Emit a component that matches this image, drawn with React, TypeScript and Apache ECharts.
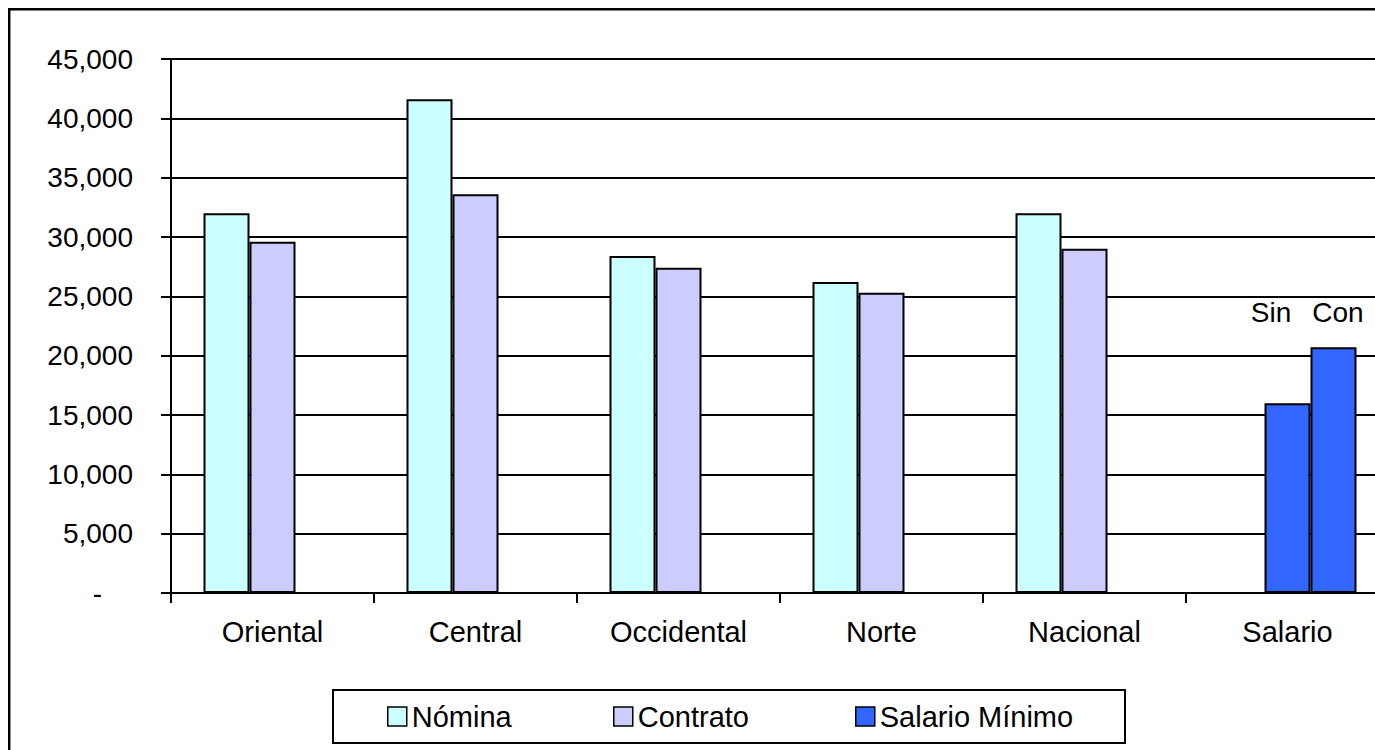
import React, { useEffect, useRef } from "react";
import * as echarts from "echarts";

const categories = ["Oriental", "Central", "Occidental", "Norte", "Nacional", "Salario"];
const nomina = [32000, 41600, 28400, 26200, 32000, null];
const contrato = [29600, 33600, 27400, 25300, 29000, null];
const salarioSin = 16000;
const salarioCon = 20700;
const salarioMinimo = [null, null, null, null, null, salarioCon];
const yMin = 0;
const yMax = 45000;
const yInterval = 5000;
const annotations = ["Sin", "Con"];

const FONT = "'Liberation Sans', Arial, sans-serif";

export default function App() {
  const ref = useRef<HTMLDivElement>(null);
  useEffect(() => {
    if (!ref.current) return;
    const chart = echarts.init(ref.current, null, { renderer: "svg" });
    const contratoData: any[] = contrato.map((v, i) =>
      i === categories.length - 1
        ? { value: salarioSin, itemStyle: { color: "#3366FF" } }
        : v
    );
    const legendCommon = {
      padding: 0,
      top: 694,
      itemWidth: 19,
      itemHeight: 19,
      icon: "rect",
      selectedMode: false,
      itemStyle: { borderColor: "#000", borderWidth: 1.5 },
      textStyle: { fontSize: 29, color: "#000", fontFamily: FONT },
    };
    chart.setOption({
      animation: false,
      textStyle: { fontFamily: FONT },
      grid: { left: 163, top: 51, width: 1218, height: 534 },
      legend: [
        { ...legendCommon, left: 379, data: ["Nómina"] },
        { ...legendCommon, left: 605, data: ["Contrato"] },
        { ...legendCommon, left: 847, data: ["Salario Mínimo"] },
      ],
      xAxis: {
        type: "category",
        data: categories,
        axisLine: { lineStyle: { color: "#000", width: 2 } },
        axisTick: { show: true, length: 10, lineStyle: { color: "#000", width: 2 } },
        axisLabel: { color: "#000", fontSize: 29, margin: 24, fontFamily: FONT },
      },
      yAxis: {
        type: "value",
        min: yMin,
        max: yMax,
        interval: yInterval,
        axisLine: { show: true, lineStyle: { color: "#000", width: 2 } },
        axisTick: { show: true, length: 10, lineStyle: { color: "#000", width: 2 } },
        splitLine: { show: true, lineStyle: { color: "#000", width: 1.8 } },
        axisLabel: {
          color: "#000",
          fontSize: 28,
          margin: 38,
          fontFamily: FONT,
          formatter: (v: number) =>
            v === 0 ? "{d|-}" : v.toLocaleString("en-US"),
          rich: { d: { fontSize: 28, color: "#000", padding: [0, 31, 0, 0], fontFamily: FONT } },
        },
      },
      series: [
        {
          name: "Nómina",
          type: "bar",
          data: nomina,
          barWidth: 46,
          barGap: "0%",
          itemStyle: { color: "#CCFFFF", borderColor: "#000", borderWidth: 2 },
        },
        {
          name: "Contrato",
          type: "bar",
          data: contratoData,
          barWidth: 46,
          barGap: "0%",
          itemStyle: { color: "#CCCCFF", borderColor: "#000", borderWidth: 2 },
        },
        {
          name: "Salario Mínimo",
          type: "bar",
          data: salarioMinimo,
          barWidth: 46,
          barGap: "0%",
          itemStyle: { color: "#3366FF", borderColor: "#000", borderWidth: 2 },
        },
      ],
      graphic: [
        {
          type: "rect",
          shape: { x: 1.2, y: 1.2, width: 3000, height: 3000 },
          style: { fill: "none", stroke: "#000", lineWidth: 2.5 },
          silent: true,
        },
        {
          type: "rect",
          shape: { x: 325, y: 682, width: 792, height: 53 },
          style: { fill: "none", stroke: "#000", lineWidth: 2 },
          silent: true,
          z: -1,
        },
        {
          type: "text",
          x: 1263,
          y: 304,
          style: {
            text: annotations[0],
            fontSize: 28,
            fontFamily: FONT,
            fill: "#000",
            align: "center",
            verticalAlign: "middle",
          },
        },
        {
          type: "text",
          x: 1330,
          y: 304,
          style: {
            text: annotations[1],
            fontSize: 28,
            fontFamily: FONT,
            fill: "#000",
            align: "center",
            verticalAlign: "middle",
          },
        },
      ],
    });
    return () => chart.dispose();
  }, []);
  return (
    <div
      style={{
        position: "fixed",
        left: 8,
        top: 8,
        width: 1367,
        height: 742,
        overflow: "hidden",
        background: "#fff",
      }}
    >
      <div ref={ref} style={{ width: 1420, height: 760 }} />
    </div>
  );
}
